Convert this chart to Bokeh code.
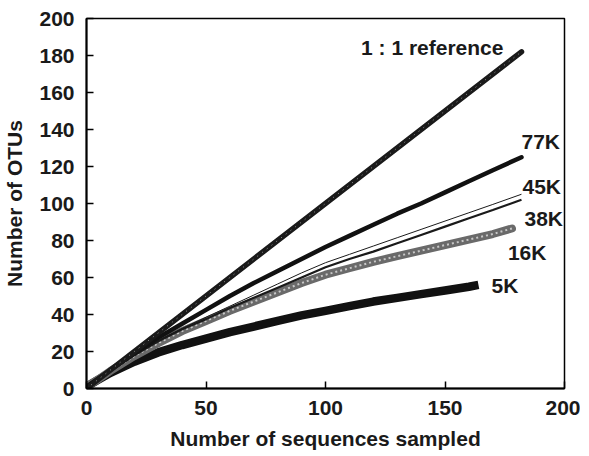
from bokeh.plotting import figure
from bokeh.models import Range1d, FixedTicker
from bokeh.core.properties import value
from bokeh.embed import file_html
from bokeh.resources import INLINE

# ---- data ----
ref_x = [0, 182]
ref_y = [0, 182]

k77_x = [0, 10, 20, 30, 40, 50, 60, 70, 80, 90, 100, 110, 120, 130, 140, 150, 160, 170, 182]
k77_y = [1, 10, 19, 27.5, 35, 42.5, 50, 57, 63.5, 70, 76.5, 82.5, 88.5, 94.5, 100, 106, 112, 118, 125]

k45_x = [0, 10, 20, 30, 40, 50, 60, 70, 80, 90, 100, 110, 120, 130, 140, 150, 160, 170, 182]
k45_y = [1, 9.5, 18, 26, 32.5, 38.5, 44.5, 50.5, 56.5, 62.5, 68, 72.5, 77, 81.5, 86, 90.5, 95, 99.5, 105]

k38_x = [0, 10, 20, 30, 40, 50, 60, 70, 80, 90, 100, 110, 120, 130, 140, 150, 160, 170, 182]
k38_y = [1, 9.5, 18, 25.5, 32, 37.5, 43.5, 49, 54.5, 60, 65.5, 70, 74, 78.5, 83, 87.5, 92, 96.5, 102]

k16_x = [0, 5, 10, 20, 30, 40, 50, 60, 70, 80, 90, 100, 110, 120, 130, 140, 150, 160, 170, 178]
k16_y = [1, 5, 9.5, 17.5, 24.5, 31, 36.5, 42, 47, 52, 57, 61.5, 65, 68.5, 71.5, 74.5, 77.5, 80.5, 83.5, 86.5]

k5_x = [0, 5, 10, 20, 30, 40, 50, 60, 70, 80, 90, 100, 110, 120, 130, 140, 150, 160, 164]
k5_y = [1, 4.8, 8.5, 14.5, 19.5, 23.5, 27, 30.5, 33.5, 36.5, 39.5, 42, 44.5, 47, 49, 51, 53, 55, 56]

x_ticks = [0, 50, 100, 150, 200]
y_ticks = [0, 20, 40, 60, 80, 100, 120, 140, 160, 180, 200]

FONT = value("Liberation Sans")

p = figure(width=581, height=454, output_backend="svg", toolbar_location=None,
           x_range=Range1d(0, 200), y_range=Range1d(0, 200),
           frame_width=478, frame_height=370,
           min_border_left=79, min_border_top=18, min_border_right=16, min_border_bottom=66)
p.background_fill_color = "white"
p.border_fill_color = "white"
p.grid.visible = False
p.outline_line_color = "black"
p.outline_line_width = 1.5

for ax in (p.xaxis[0], p.yaxis[0]):
    ax.major_label_text_font = "Liberation Sans"
    ax.major_label_text_font_style = "bold"
    ax.major_label_text_font_size = "21px"
    ax.major_label_text_color = "#1a1a1a"
    ax.axis_label_text_font = "Liberation Sans"
    ax.axis_label_text_font_style = "bold"
    ax.axis_label_text_font_size = "21px"
    ax.axis_label_text_color = "#1a1a1a"
    ax.axis_line_width = 2
    ax.axis_line_color = "black"
    ax.major_tick_in = 7
    ax.major_tick_out = 0
    ax.major_tick_line_width = 1.5
    ax.minor_tick_line_color = None

p.xaxis.ticker = FixedTicker(ticks=x_ticks)
p.yaxis.ticker = FixedTicker(ticks=y_ticks)
p.xaxis.axis_label = "Number of sequences sampled"
p.yaxis.axis_label = "Number of OTUs"
p.xaxis.major_label_standoff = 12
p.yaxis.major_label_standoff = 12
p.xaxis.axis_label_standoff = 9
p.yaxis.axis_label_standoff = 10

# 5K: thick black band
p.line(k5_x, k5_y, line_color="#111111", line_width=8.5, line_cap="butt")
# 16K: gray open-circle band
p.line(k16_x, k16_y, line_color="#6a6a6a", line_width=8, line_cap="round")
p.line(k16_x, k16_y, line_color="#c8c8c8", line_width=2, line_dash="2 3")
# 38K: dotted dark line
p.line(k38_x, k38_y, line_color="#1a1a1a", line_width=2.2)
# 45K: thin line
p.line(k45_x, k45_y, line_color="#1a1a1a", line_width=1)
# 77K: thick black line
p.line(k77_x, k77_y, line_color="#111111", line_width=4.5, line_cap="round")
# 1:1 reference
p.line(ref_x, ref_y, line_color="#1a1a1a", line_width=5.5, line_cap="round")
p.line(ref_x, ref_y, line_color="#9a9a9a", line_width=1, line_dash="1 5")

def label(xs, ys, txt, dx, dy, align="left"):
    p.text(x=[xs[-1]], y=[ys[-1]], text=[txt], x_offset=dx, y_offset=dy,
           text_font=FONT, text_font_style="bold", text_font_size="21px",
           text_color="#1a1a1a", text_align=align, text_baseline="middle")

label(ref_x, ref_y, "1 : 1 reference", -18, -4, "right")
label(k77_x, k77_y, "77K", 0, -16)
label(k45_x, k45_y, "45K", 1, -8)
label(k38_x, k38_y, "38K", 3, 19)
label(k16_x, k16_y, "16K", -4, 24)
label(k5_x, k5_y, "5K", 13, 1)

open("out.html", "w").write(file_html(p, INLINE))
